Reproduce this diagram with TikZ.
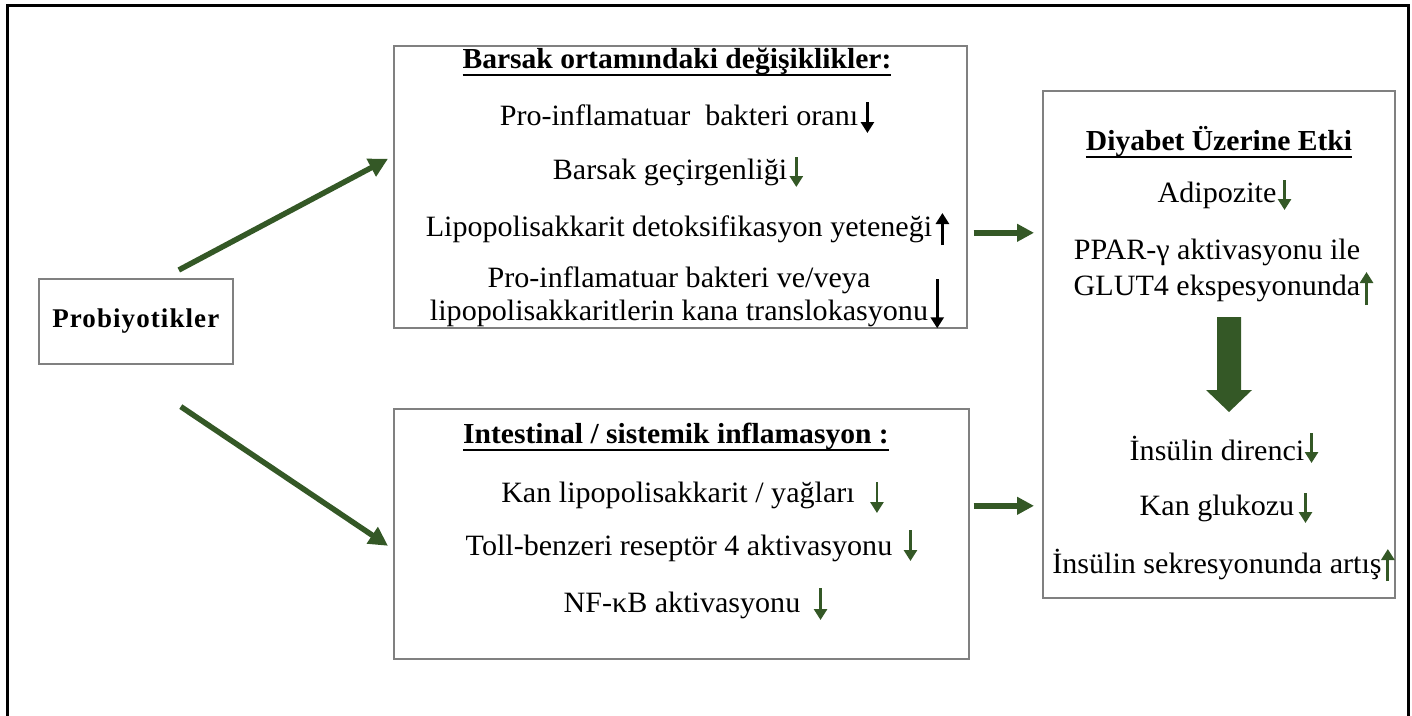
\documentclass[tikz,border=0pt]{standalone}
\usepackage{fontspec}
\setmainfont{Liberation Serif}[FakeStretch=1.02]
\newfontfamily\probfont{Liberation Serif}[LetterSpace=4]
\usetikzlibrary{arrows.meta}
\definecolor{dgreen}{RGB}{52,88,38}
\definecolor{boxgray}{RGB}{128,128,128}
\newcommand{\myul}[1]{\leavevmode\setbox0=\hbox{#1}\rlap{\raisebox{-7.5pt}{\rule{\wd0}{1.8pt}}}\box0}
\begin{document}
\begin{tikzpicture}[x=1pt,y=-1pt,
  box/.style={draw=boxgray, line width=1.6pt, anchor=north west, inner sep=0pt},
  txt/.style={inner sep=0pt, font=\fontsize{29.5}{33}\selectfont, align=center},
  ttl/.style={inner sep=0pt, font=\fontsize{29}{32}\selectfont\bfseries},
  flow/.style={dgreen, line width=5.5pt, -{Triangle[length=19pt,width=19pt]}},
  harr/.style={dgreen, line width=6pt, -{Triangle[length=17pt,width=17pt]}},
  sarr/.style={line width=2.8pt, -{Triangle[length=11pt,width=13pt]}},
  garr/.style={sarr, draw=dgreen},
  karr/.style={sarr, draw=black}]
\useasboundingbox (0,0) rectangle (1412,715);
% outer frame
\draw[line width=3pt] (7,730) -- (7,5) -- (1408.5,5) -- (1408.5,730);

% boxes
\node[box, minimum width=194pt, minimum height=85pt] (prob) at (38,278) {};
\node[font=\fontsize{27}{30}\selectfont\bfseries\probfont, inner sep=0pt] (probt) at (prob.center) {Probiyotikler};
\node[box, minimum width=573pt, minimum height=282pt] (top) at (393,45) {};
\node[box, minimum width=575pt, minimum height=250pt] (bot) at (393,408) {};
\node[box, minimum width=352pt, minimum height=507pt] (right) at (1042,90) {};

% connectors
\draw[flow] ([xshift=43pt,yshift=8pt]prob.north) -- ([xshift=-5pt,yshift=28pt]top.west);
\draw[flow] ([xshift=45pt,yshift=-42pt]prob.south) -- ([xshift=-5pt,yshift=-12pt]bot.west);
\draw[harr] ([xshift=6pt,yshift=-46pt]top.east) -- ([xshift=-8pt,yshift=111.5pt]right.west);
\draw[harr] ([xshift=4pt,yshift=28pt]bot.east) -- ([xshift=-8pt,yshift=-161.5pt]right.west);

% top box texts
\node[ttl] (tt) at (677,62) {\myul{Barsak ortamındaki değişiklikler:}};
\node[txt] (a1) at (679,115) {Pro-inflamatuar\ \ bakteri oranı};
\node[txt] (a2) at (670,172) {Barsak geçirgenliği};
\node[txt] (a3) at (679,229) {Lipopolisakkarit detoksifikasyon yeteneği};
\node[txt] (a4) at (679,297) {Pro-inflamatuar bakteri ve/veya\\lipopolisakkaritlerin kana translokasyonu};
\draw[karr] ([xshift=9pt,yshift=13pt]a1.east) -- ([xshift=9pt,yshift=-18pt]a1.east);
\draw[garr] ([xshift=9pt,yshift=15pt]a2.east) -- ([xshift=9pt,yshift=-15pt]a2.east);
\draw[karr] ([xshift=10pt,yshift=-16pt]a3.east) -- ([xshift=10pt,yshift=16pt]a3.east);
\draw[karr] ([xshift=9pt,yshift=48pt]a4.south east) -- ([xshift=9pt,yshift=-1pt]a4.south east);

% bottom box texts
\node[ttl] (bt) at (676,437) {\myul{Intestinal / sistemik inflamasyon :}};
\node[txt] (b1) at (678,495) {Kan lipopolisakkarit / yağları};
\node[txt] (b2) at (679,548) {Toll-benzeri reseptör 4 aktivasyonu};
\node[txt] (b3) at (682,605) {NF-κB aktivasyonu};
\draw[garr] ([xshift=22pt,yshift=13pt]b1.east) -- ([xshift=22pt,yshift=-18pt]b1.east);
\draw[garr] ([xshift=18pt,yshift=18pt]b2.east) -- ([xshift=18pt,yshift=-13pt]b2.east);
\draw[garr] ([xshift=20pt,yshift=17pt]b3.east) -- ([xshift=20pt,yshift=-15pt]b3.east);

% right box texts
\node[ttl] (rt) at (1219,142) {\myul{Diyabet Üzerine Etki}};
\node[txt] (r1) at (1217,195) {Adipozite};
\node[txt] (r2) at (1217,252) {PPAR-γ aktivasyonu ile};
\node[txt] (r3) at (1217,288) {GLUT4 ekspesyonunda};
\node[txt] (r4) at (1217,448) {İnsülin direnci};
\node[txt] (r5) at (1217,508) {Kan glukozu};
\node[txt] (r6) at (1217,565) {İnsülin sekresyonunda artış};
\draw[garr] ([xshift=8pt,yshift=15pt]r1.east) -- ([xshift=8pt,yshift=-15pt]r1.east);
\draw[garr] ([xshift=6pt,yshift=-17pt]r3.east) -- ([xshift=6pt,yshift=16pt]r3.east);
\draw[garr] ([xshift=7pt,yshift=15pt]r4.east) -- ([xshift=7pt,yshift=-15pt]r4.east);
\draw[garr] ([xshift=11pt,yshift=15pt]r5.east) -- ([xshift=11pt,yshift=-15pt]r5.east);
\draw[garr] ([xshift=6pt,yshift=-16pt]r6.east) -- ([xshift=6pt,yshift=16pt]r6.east);

% block arrow
\fill[dgreen] (1217,317) -- (1241,317) -- (1241,390) -- (1252,390) -- (1229,412) -- (1206,390) -- (1217,390) -- cycle;
\end{tikzpicture}
\end{document}
